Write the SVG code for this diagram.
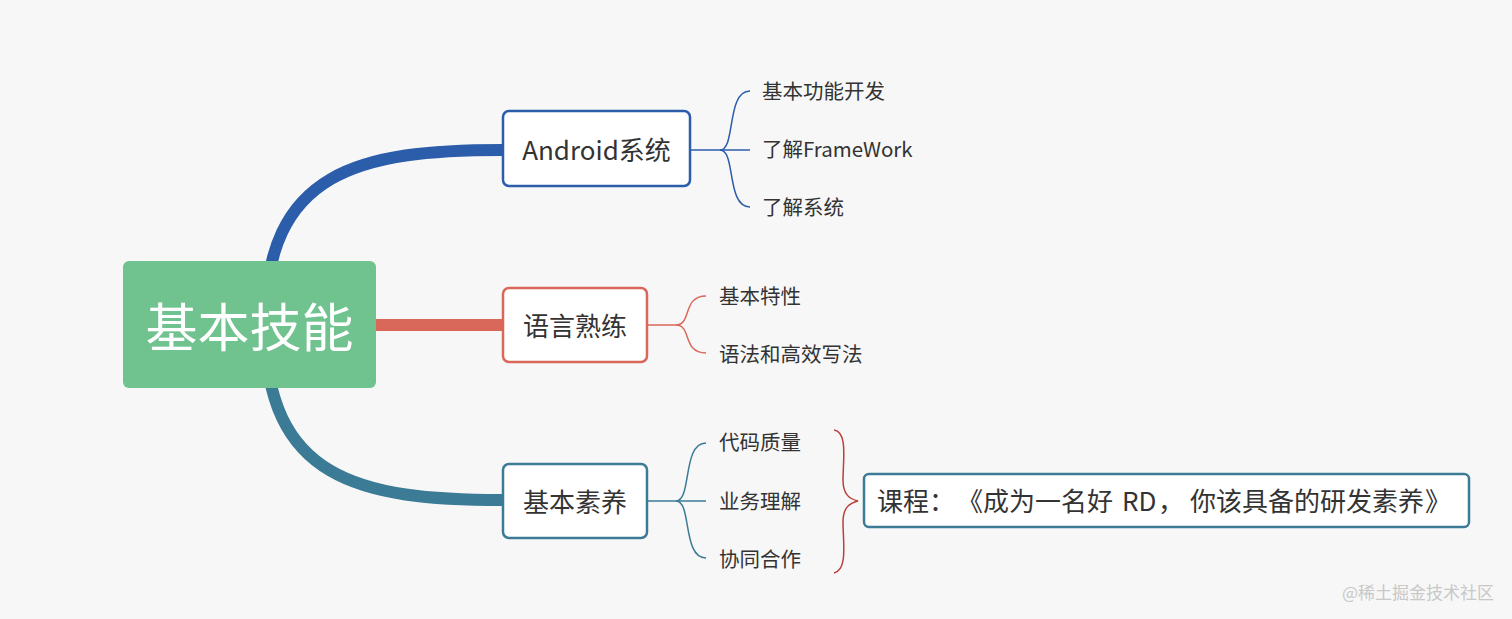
<svg xmlns="http://www.w3.org/2000/svg" width="1512" height="619" viewBox="0 0 1512 619">
<style>
text{font-family:"Noto Sans CJK SC","Noto Sans",sans-serif;fill:#333;text-spacing-trim:space-all;font-feature-settings:"chws" 0,"halt" 0}
.node{fill:#fff;stroke-width:2.5}
.lbl{font-size:26px;text-anchor:middle;dominant-baseline:central}
.sub{font-size:20.5px;dominant-baseline:central}
.br{fill:none;stroke-width:1.5}
</style>
<rect width="1512" height="619" fill="#f7f7f7"/>
<g id="connectors">
<path d="M265 325 C265 170,360 150,503 150" fill="none" stroke="#2b5dab" stroke-width="12"/>
<path d="M265 325 C265 480,360 500,503 500" fill="none" stroke="#3b7b96" stroke-width="12"/>
<path d="M376 325 H503" stroke="#d9685a" stroke-width="12"/>
<g class="br" stroke="#2b5dab">
<path d="M690 150 H720"/>
<path d="M720 150 C736 150,726 91,750 91"/>
<path d="M720 150 H750"/>
<path d="M720 150 C736 150,726 207,750 207"/>
</g>
<g class="br" stroke="#d9685a">
<path d="M647 325 H676"/>
<path d="M676 325 C692 325,682 296,706 296"/>
<path d="M676 325 C692 325,682 353,706 353"/>
</g>
<g class="br" stroke="#3b7b96">
<path d="M647 501 H676"/>
<path d="M676 501 C692 501,682 443,706 443"/>
<path d="M676 501 H706"/>
<path d="M676 501 C692 501,682 558,706 558"/>
</g>
<path class="br" stroke="#b8413a" d="M834 430 C848 432,843 460,843 480 C843 495,850 499,858 501 C850 503,843 507,843 522 C843 542,848 570,834 573"/>
</g>
<g id="root">
<rect x="123" y="261" width="253" height="127" rx="6" fill="#70c28f"/>
<text x="249.500" y="324" style="font-size:52px;text-anchor:middle;dominant-baseline:central;fill:#fff">基本技能</text>
</g>
<g id="android">
<rect class="node" x="503" y="111" width="187" height="75" rx="6" stroke="#2b5dab"/>
<text class="lbl" x="596.500" y="148">Android系统</text>
</g>
<g id="lang">
<rect class="node" x="503" y="288" width="144" height="74" rx="6" stroke="#d9685a"/>
<text class="lbl" x="575" y="324">语言熟练</text>
</g>
<g id="basic">
<rect class="node" x="503" y="464" width="144" height="74" rx="6" stroke="#3b7b96"/>
<text class="lbl" x="575" y="500">基本素养</text>
</g>
<g id="android-children">
<text class="sub" x="762" y="90">基本功能开发</text>
<text class="sub" x="762" y="148">了解FrameWork</text>
<text class="sub" x="762" y="206">了解系统</text>
</g>
<g id="lang-children">
<text class="sub" x="719" y="295">基本特性</text>
<text class="sub" x="719" y="353">语法和高效写法</text>
</g>
<g id="basic-children">
<text class="sub" x="719" y="441">代码质量</text>
<text class="sub" x="719" y="500">业务理解</text>
<text class="sub" x="719" y="558">协同合作</text>
</g>
<g id="course">
<rect class="node" x="864" y="474" width="605" height="53" rx="5" stroke="#3b7b96"/>
<text y="499" style="font-size:26px;dominant-baseline:central"><tspan x="877">课程</tspan><tspan x="929">：</tspan><tspan x="957">《</tspan><tspan x="983">成为一名好</tspan><tspan x="1122">RD</tspan><tspan x="1158">，</tspan><tspan x="1190">你该具备的研发素养</tspan><tspan x="1425">》</tspan></text>
</g>
<text x="1494" y="591" style="font-size:17px;text-anchor:end;dominant-baseline:central;fill:#c8c8c8">@稀土掘金技术社区</text>
</svg>
